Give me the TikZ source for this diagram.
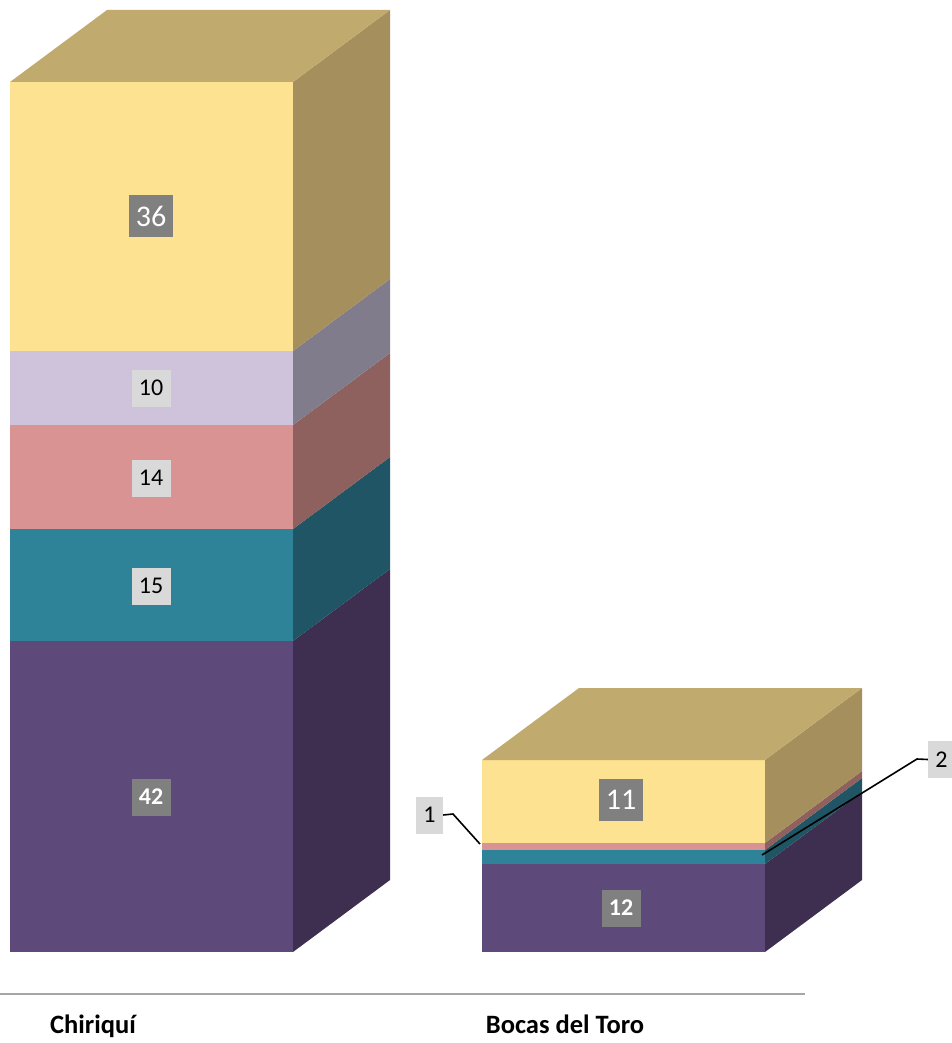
\documentclass[tikz,border=0pt]{standalone}
\usepackage{fontspec}
\setmainfont{Carlito}
\usepackage{tikz}

\definecolor{yelfront}{RGB}{253,226,145}
\definecolor{yeltop}{RGB}{192,170,110}
\definecolor{yelside}{RGB}{165,143,92}
\definecolor{lavfront}{RGB}{207,194,219}
\definecolor{lavside}{RGB}{129,124,140}
\definecolor{pinkfront}{RGB}{216,147,146}
\definecolor{pinkside}{RGB}{142,96,94}
\definecolor{tealfront}{RGB}{46,131,152}
\definecolor{tealside}{RGB}{31,85,100}
\definecolor{purpfront}{RGB}{94,74,122}
\definecolor{purpside}{RGB}{62,46,80}
\definecolor{lbldark}{RGB}{128,128,128}
\definecolor{lbllight}{RGB}{217,217,217}
\definecolor{axisgray}{RGB}{166,166,166}

\begin{document}
\begin{tikzpicture}[x=1pt, y=-1pt]
\tikzstyle{darkbig} = [fill=lbldark, text=white, minimum width=44pt, minimum height=42pt, inner sep=0pt, font=\fontsize{30}{30}\selectfont]
\tikzstyle{darkbold} = [fill=lbldark, text=white, minimum width=39pt, minimum height=37pt, inner sep=0pt, font=\fontsize{24}{24}\selectfont\bfseries]
\tikzstyle{lightlbl} = [fill=lbllight, text=black, minimum width=39pt, minimum height=37pt, inner sep=0pt, font=\fontsize{24}{24}\selectfont]
\tikzstyle{leader} = [black, line width=1.6pt]
\tikzstyle{category} = [anchor=base, font=\fontsize{26.5}{26.5}\selectfont\bfseries]
\useasboundingbox (0,0) rectangle (952,1043);

% Chiriqui bar
\fill[purpfront] (10,641) rectangle (293,952);
\fill[purpside] (293,952) -- (390,880) -- (390,569) -- (293,641) -- cycle;
\fill[tealfront] (10,529) rectangle (293,641);
\fill[tealside] (293,641) -- (390,569) -- (390,457) -- (293,529) -- cycle;
\fill[pinkfront] (10,425) rectangle (293,529);
\fill[pinkside] (293,529) -- (390,457) -- (390,353) -- (293,425) -- cycle;
\fill[lavfront] (10,351) rectangle (293,425);
\fill[lavside] (293,425) -- (390,353) -- (390,279) -- (293,351) -- cycle;
\fill[yelfront] (10,82) rectangle (293,351);
\fill[yelside] (293,351) -- (390,279) -- (390,10) -- (293,82) -- cycle;
\fill[yeltop] (10,82) -- (107,10) -- (390,10) -- (293,82) -- cycle;

% Bocas del Toro bar
\fill[purpfront] (482,864) rectangle (765,952);
\fill[purpside] (765,952) -- (862,880) -- (862,792) -- (765,864) -- cycle;
\fill[tealfront] (482,850) rectangle (765,864);
\fill[tealside] (765,864) -- (862,792) -- (862,778) -- (765,850) -- cycle;
\fill[pinkfront] (482,843) rectangle (765,850);
\fill[pinkside] (765,850) -- (862,778) -- (862,771) -- (765,843) -- cycle;
\fill[yelfront] (482,760) rectangle (765,843);
\fill[yelside] (765,843) -- (862,771) -- (862,688) -- (765,760) -- cycle;
\fill[yeltop] (482,760) -- (579,688) -- (862,688) -- (765,760) -- cycle;

% data labels
\node (chi36) [darkbig] at (151,216) {36};
\node (chi10) [lightlbl] at (151,388) {10};
\node (chi14) [lightlbl] at (151,478) {14};
\node (chi15) [lightlbl] at (151,586) {15};
\node (chi42) [darkbold] at (151,797) {42};
\node (boc11) [darkbig] at (621,800) {11};
\node (boc12) [darkbold] at (621,908) {12};
\node (boc1) [lightlbl, minimum width=27pt] at (429.5,815) {1};
\node (boc2) [lightlbl, minimum width=27pt] at (941.5,759.5) {2};

\coordinate (knee1) at (453,814);
\coordinate (tip1) at (480,844);
\coordinate (knee2) at (917,759);
\coordinate (tip2) at (762,855);
\draw [leader] (boc1.east) -- (knee1) -- (tip1);
\draw [leader] (boc2.west) -- (knee2) -- (tip2);

% axis
\coordinate (axl) at (0,994);
\coordinate (axr) at (805,994);
\draw [axisgray, line width=2pt] (axl) -- (axr);
\node (catchi) [category] at (93,1033) {Chiriquí};
\node (catboc) [category] at (565,1033) {Bocas del Toro};
\end{tikzpicture}
\end{document}
